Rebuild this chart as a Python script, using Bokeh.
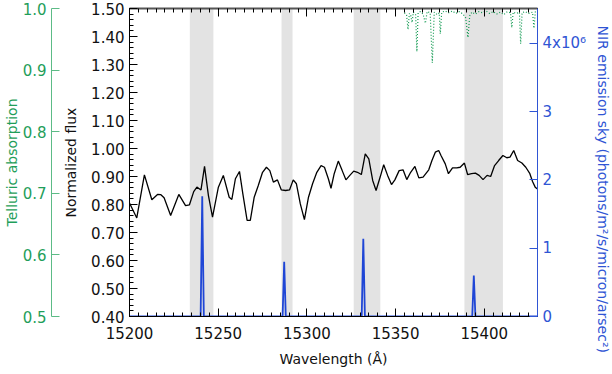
import math
from bokeh.plotting import figure
from bokeh.models import (Range1d, LinearAxis, SingleIntervalTicker, FixedTicker,
                          PrintfTickFormatter, CustomJSTickFormatter, BoxAnnotation, Title)
from bokeh.embed import file_html
from bokeh.resources import INLINE

FONT = "DejaVu Sans"
GREEN = "#1f9e5a"
GREEN_LINE = "#5cbb86"
GREEN_DOT = "#129a52"
BLUE = "#2f55d4"
BLUE_LINE = "#1f46d6"

# ---------------- data ----------------
flux_wave = [15200.0, 15204.1, 15208.4, 15212.6, 15215.8, 15217.7, 15219.5, 15223.2, 15227.8,
             15231.6, 15233.8, 15236.2, 15238.0, 15240.3, 15242.3, 15244.5, 15246.8, 15250.1,
             15252.9, 15256.2, 15257.7, 15259.7, 15262.0, 15263.9, 15266.3, 15268.1, 15270.3,
             15272.6, 15275.0, 15277.2, 15279.1, 15281.1, 15283.4, 15285.6, 15288.0, 15290.2,
             15292.3, 15294.1, 15296.3, 15298.6, 15300.9, 15303.2, 15305.6, 15308.0, 15309.9,
             15312.1, 15313.6, 15315.4, 15317.7, 15319.9, 15322.0, 15324.2, 15326.4, 15328.5,
             15330.7, 15332.9, 15334.9, 15337.1, 15339.0, 15341.3, 15343.3, 15345.5, 15347.7,
             15349.6, 15352.0, 15354.2, 15356.3, 15358.5, 15360.9, 15363.1, 15365.5, 15368.7,
             15370.5, 15372.4, 15374.3, 15375.6, 15378.0, 15379.8, 15382.1, 15384.5, 15386.4,
             15388.8, 15390.6, 15392.8, 15395.0, 15397.1, 15399.3, 15401.6, 15403.6, 15405.8,
             15408.1, 15410.5, 15412.7, 15414.5, 15416.6, 15418.8, 15421.2, 15423.4, 15425.7,
             15427.2, 15428.7, 15430.0]
flux_norm = [0.805, 0.752, 0.906, 0.817, 0.836, 0.835, 0.824, 0.761, 0.836,
             0.796, 0.799, 0.846, 0.862, 0.852, 0.936, 0.832, 0.755, 0.862,
             0.904, 0.826, 0.818, 0.892, 0.918, 0.838, 0.743, 0.743, 0.826,
             0.868, 0.915, 0.933, 0.921, 0.880, 0.888, 0.852, 0.850, 0.852,
             0.888, 0.874, 0.802, 0.746, 0.826, 0.874, 0.915, 0.939, 0.933,
             0.892, 0.858, 0.910, 0.955, 0.921, 0.888, 0.904, 0.919, 0.915,
             0.907, 0.981, 0.963, 0.886, 0.850, 0.898, 0.942, 0.904, 0.871,
             0.888, 0.921, 0.924, 0.889, 0.915, 0.936, 0.895, 0.898, 0.924,
             0.957, 0.987, 0.993, 0.975, 0.945, 0.910, 0.931, 0.931, 0.933,
             0.948, 0.907, 0.910, 0.912, 0.904, 0.889, 0.904, 0.900, 0.939,
             0.957, 0.975, 0.967, 0.969, 0.993, 0.957, 0.948, 0.933, 0.910,
             0.882, 0.862, 0.855]

sky_wave = [15200.0, 15240.1, 15241.0, 15241.9, 15286.3, 15287.2, 15288.1,
            15330.9, 15331.8, 15332.7, 15393.2, 15394.1, 15395.0, 15430.0]
sky_flux = [0.0, 0.0, 1.76e6, 0.0, 0.0, 0.80e6, 0.0,
            0.0, 1.14e6, 0.0, 0.0, 0.60e6, 0.0, 0.0]

tell_wave = [15355.0, 15356.2, 15357.0, 15357.8, 15358.6, 15359.3, 15360.0, 15361.3, 15362.0,
             15362.7, 15364.0, 15365.5, 15366.8, 15367.8, 15369.5, 15370.7, 15371.8, 15373.5,
             15374.6, 15375.2, 15376.0, 15378.0, 15380.0, 15382.0, 15384.0, 15386.0, 15388.0,
             15389.5, 15390.8, 15391.8, 15393.0, 15395.0, 15397.0, 15399.0, 15401.0, 15403.0,
             15405.0, 15407.0, 15409.0, 15411.0, 15413.0, 15414.8, 15415.5, 15416.3, 15418.0,
             15419.8, 15420.5, 15421.3, 15423.0, 15425.0, 15427.2, 15428.0, 15428.8, 15430.0]
tell_flux = [0.993, 0.990, 0.966, 0.992, 0.988, 0.977, 0.994, 0.990, 0.930,
             0.993, 0.995, 0.991, 0.976, 0.995, 0.993, 0.912, 0.994, 0.990,
             0.993, 0.959, 0.994, 0.996, 0.993, 0.996, 0.992, 0.995, 0.991,
             0.985, 0.953, 0.988, 0.994, 0.991, 0.995, 0.993, 0.996, 0.992,
             0.995, 0.991, 0.994, 0.990, 0.995, 0.993, 0.969, 0.994, 0.992,
             0.994, 0.943, 0.993, 0.995, 0.992, 0.994, 0.968, 0.995, 0.994]

band_left = [15234.0, 15285.7, 15326.4, 15388.8]
band_right = [15247.3, 15291.9, 15341.4, 15410.5]

x_limits = (15200, 15430)
flux_limits = (0.40, 1.50)
sky_limits = (0.0, 4.51e6)
tell_limits = (0.5, 1.0)
sky_ticks = [0, 1e6, 2e6, 3e6, 4e6]
tell_ticks = [0.5, 0.6, 0.7, 0.8, 0.9, 1.0]

# ---------------- figure ----------------
p = figure(width=612, height=374, x_range=Range1d(*x_limits), y_range=Range1d(*flux_limits),
           output_backend="svg", toolbar_location=None,
           min_border_left=127, min_border_right=72, min_border_top=8, min_border_bottom=58)
p.extra_y_ranges = {"sky": Range1d(*sky_limits), "tell": Range1d(*tell_limits)}
p.xgrid.visible = False
p.ygrid.visible = False
p.outline_line_color = "black"
p.background_fill_color = "white"
p.border_fill_color = "white"

for l, r in zip(band_left, band_right):
    p.add_layout(BoxAnnotation(left=l, right=r, fill_color="#e3e3e3", fill_alpha=1.0,
                               line_color=None, level="underlay"))

p.line(flux_wave, flux_norm, line_color="black", line_width=1.3)
p.line(sky_wave, sky_flux, y_range_name="sky", line_color=BLUE_LINE, line_width=1.8)
p.line(tell_wave, tell_flux, y_range_name="tell", line_color=GREEN_DOT, line_width=1.2,
       line_dash="1 2")

# bottom axis
xa = p.xaxis[0]
xa.ticker = SingleIntervalTicker(interval=50, num_minor_ticks=10)
xa.major_tick_in = 8
xa.major_tick_out = 0
xa.minor_tick_in = 4
xa.minor_tick_out = 0
xa.major_label_standoff = 10
xa.major_label_text_font = FONT
xa.major_label_text_font_size = "15px"
xa.major_label_text_color = "#111111"
xa.axis_label = "Wavelength (Å)"
xa.axis_label_standoff = 9
xa.axis_label_text_font = FONT
xa.axis_label_text_font_size = "14px"
xa.axis_label_text_font_style = "normal"
xa.axis_label_text_color = "#111111"

# top axis (ticks only)
ta = LinearAxis(ticker=SingleIntervalTicker(interval=50, num_minor_ticks=10),
                formatter=CustomJSTickFormatter(code="return ''"))
ta.major_tick_in = 8
ta.major_tick_out = 0
ta.minor_tick_in = 4
ta.minor_tick_out = 0
ta.major_label_standoff = 0
ta.major_label_text_font_size = "1px"
ta.axis_line_color = "#555555"
ta.axis_line_width = 2
p.add_layout(ta, "above")

# main left axis
ya = p.yaxis[0]
ya.ticker = SingleIntervalTicker(interval=0.1, num_minor_ticks=5)
ya.formatter = PrintfTickFormatter(format="%.2f")
ya.major_tick_in = 8
ya.major_tick_out = 0
ya.minor_tick_in = 4
ya.minor_tick_out = 0
ya.major_label_standoff = 5
ya.major_label_text_font = FONT
ya.major_label_text_font_size = "15px"
ya.major_label_text_color = "#111111"
ya.axis_label = "Normalized flux"
ya.axis_label_standoff = 9
ya.axis_label_text_font = FONT
ya.axis_label_text_font_size = "14px"
ya.axis_label_text_font_style = "normal"
ya.axis_label_text_color = "#111111"

# blank spacer between the two left axes
sp = LinearAxis(ticker=FixedTicker(ticks=[0.45]),
                formatter=CustomJSTickFormatter(code="return ''"),
                axis_line_color=None, major_tick_out=9, major_tick_in=0,
                minor_tick_out=0, minor_tick_in=0,
                major_tick_line_color="white", minor_tick_line_color=None,
                major_label_standoff=0, major_label_text_font_size="1px")
p.add_layout(sp, "left")

# telluric axis
tl = LinearAxis(y_range_name="tell", ticker=FixedTicker(ticks=tell_ticks),
                formatter=PrintfTickFormatter(format="%.1f"))
tl.major_tick_in = 8
tl.major_tick_out = 0
tl.minor_tick_line_color = None
tl.axis_line_color = GREEN_LINE
tl.major_tick_line_color = GREEN_LINE
tl.major_label_standoff = 5
tl.major_label_text_font = FONT
tl.major_label_text_font_size = "15px"
tl.major_label_text_color = GREEN
tl.axis_label = "Telluric absorption"
tl.axis_label_standoff = 0
tl.axis_label_text_font = FONT
tl.axis_label_text_font_size = "14px"
tl.axis_label_text_font_style = "normal"
tl.axis_label_text_color = GREEN
p.add_layout(tl, "left")

# right sky axis
ra = LinearAxis(y_range_name="sky", ticker=FixedTicker(ticks=sky_ticks),
                formatter=CustomJSTickFormatter(code="""
                    if (tick == 0) return '0';
                    if (tick > 3.5e6) return '4x10\u2076';
                    return (tick/1e6).toFixed(0);
                """))
ra.major_tick_in = 8
ra.major_tick_out = 0
ra.minor_tick_line_color = None
ra.axis_line_color = BLUE
ra.major_tick_line_color = BLUE
ra.major_label_standoff = 5
ra.major_label_text_font = FONT
ra.major_label_text_font_size = "15px"
ra.major_label_text_color = BLUE
p.add_layout(ra, "right")

rsp = LinearAxis(y_range_name="sky", ticker=FixedTicker(ticks=[2e6]),
                 formatter=CustomJSTickFormatter(code="return ''"),
                 axis_line_color=None, major_tick_out=5, major_tick_in=0,
                 minor_tick_out=0, minor_tick_in=0,
                 major_tick_line_color="white", minor_tick_line_color=None,
                 major_label_standoff=0, major_label_text_font_size="1px")
p.add_layout(rsp, "right")

p.add_layout(Title(text="NIR emission sky (photons/m\u00b2/s/micron/arsec\u00b2)",
                   align="left", offset=17, standoff=0,
                   text_font=FONT, text_font_size="14px", text_font_style="normal",
                   text_color=BLUE), "right")

open("out.html", "w").write(file_html(p, INLINE))
